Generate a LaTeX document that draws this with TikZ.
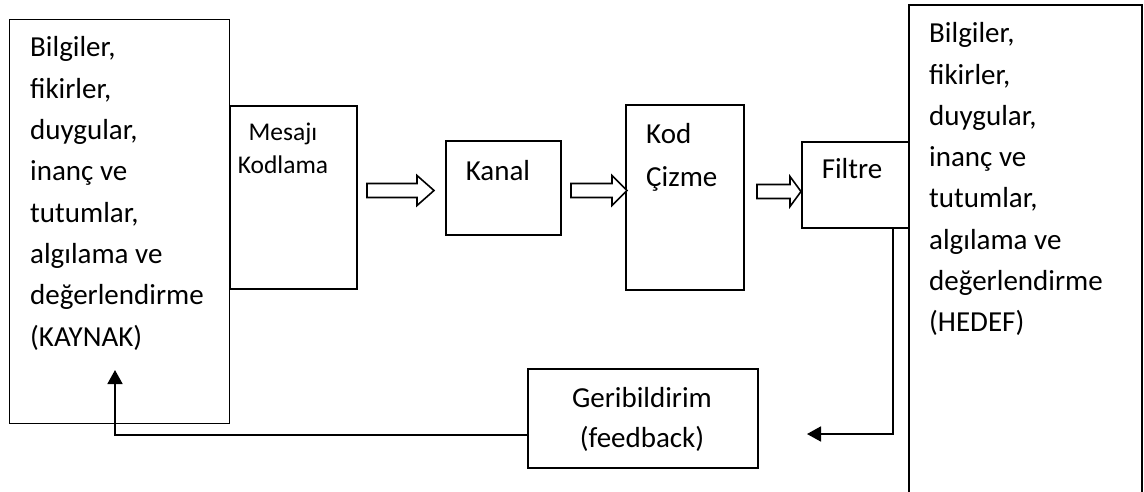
\documentclass[tikz,border=0pt]{standalone}
\usepackage{fontspec}
\setmainfont{Carlito}
\usetikzlibrary{arrows.meta}
\newcommand\hollowarrow[4]{%
  \draw[hollow] (#1,#4-7) -- (#2,#4-7) -- (#2,#4-15) -- (#3,#4) -- (#2,#4+15) -- (#2,#4+7) -- (#1,#4+7) -- cycle;}
\begin{document}
\begin{tikzpicture}[x=1pt,y=-1pt,
  box/.style={draw, line width=1.8pt, inner sep=0pt, anchor=north west},
  txt/.style={inner sep=0pt, font=\fontsize{29}{41.3}\selectfont},
  hollow/.style={draw, line width=1.6pt, fill=white, line join=miter},
  fb/.style={draw, line width=1.8pt, -{Triangle[length=14pt,width=15pt]}}]
\clip (0,0) rectangle (1144,491);
\fill[white] (0,0) rectangle (1144,491);
% boxes
\node[box, minimum width=220pt, minimum height=404pt] (src) at (8.5,18.5) {};
\node[box, minimum width=127pt, minimum height=183pt] (enc) at (229,105) {};
\node[box, minimum width=115pt, minimum height=94pt] (kanal) at (445,140) {};
\node[box, minimum width=118pt, minimum height=185pt] (dec) at (625,104) {};
\node[box, minimum width=107pt, minimum height=86pt] (filtre) at (801,141) {};
\node[box, minimum width=233pt, minimum height=520pt] (dst) at (908,4) {};
\node[box, minimum width=230pt, minimum height=99pt] (geri) at (527,368) {};
% texts
\node[txt, anchor=north west, align=left] (srctxt) at (30,27.8)
  {\strut Bilgiler,\\fikirler,\\duygular,\\inanç ve\\tutumlar,\\algılama ve\\değerlendirme\\(KAYNAK)};
\node[txt, anchor=north west, align=left] (dsttxt) at (929,13.6)
  {\strut Bilgiler,\\fikirler,\\duygular,\\inanç ve\\tutumlar,\\algılama ve\\değerlendirme\\(HEDEF)};
\node[txt, font=\fontsize{25.5}{33}\selectfont, anchor=north, align=center] (enctxt) at (283,116.9)
  {\strut Mesajı\\Kodlama};
\node[txt, anchor=base] (kanaltxt) at (498,180) {Kanal};
\node[txt, font=\fontsize{29}{43}\selectfont, anchor=north west, align=left] (dectxt) at (646,112.9)
  {\strut Kod\\Çizme};
\node[txt, anchor=base] (filtretxt) at (852,178) {Filtre};
\node[txt, font=\fontsize{29}{40}\selectfont, anchor=north, align=center] (geritxt) at (642,379)
  {\strut Geribildirim\\(feedback)};
% hollow arrows
\hollowarrow{367}{417}{434}{190.5}
\hollowarrow{571}{612}{627}{190.5}
\hollowarrow{757}{790}{801}{191.5}
% feedback connectors
\coordinate (fbtip) at (807,434);
\coordinate (kaytip) at (115,370);
\draw[fb] ([xshift=-17pt]filtre.south east) |- (fbtip);
\draw[fb] ([yshift=-16.5pt]geri.west) -| (kaytip);
\end{tikzpicture}
\end{document}
